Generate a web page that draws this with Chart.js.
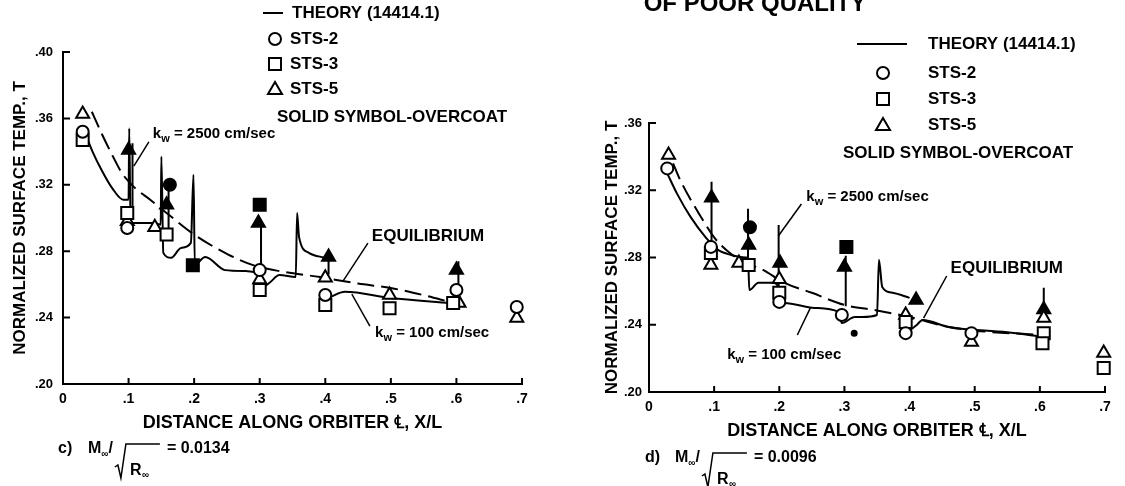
<!DOCTYPE html>
<html>
<head>
<meta charset="utf-8">
<script src="https://cdn.jsdelivr.net/npm/chart.js@4.4.0/dist/chart.umd.min.js"></script>
<style>
html, body { margin: 0; padding: 0; background: #fff; }
#wrap { position: relative; width: 1125px; height: 486px; overflow: hidden; }
canvas { position: absolute; top: 0; }
#panelC { left: 0; }
#panelD { left: 560px; }
</style>
</head>
<body>
<div id="wrap">
  <canvas id="panelC" width="560" height="486"></canvas>
  <canvas id="panelD" width="565" height="486"></canvas>
</div>
<script>
// ---- data (x = X/L, y = normalized temp) ----
const xTickValues = [0, 0.1, 0.2, 0.3, 0.4, 0.5, 0.6, 0.7];
const xTickLabels = ['0', '.1', '.2', '.3', '.4', '.5', '.6', '.7'];
const yTickValuesC = [0.20, 0.24, 0.28, 0.32, 0.36, 0.40];
const yTickLabelsC = ['.20', '.24', '.28', '.32', '.36', '.40'];
const yTickValuesD = [0.20, 0.24, 0.28, 0.32, 0.36];
const yTickLabelsD = ['.20', '.24', '.28', '.32', '.36'];
const flights = ['STS-2', 'STS-3', 'STS-5'];

// panel c)  M/sqrt(R) = 0.0134
const cSts2Open = [[0.030,0.352],[0.098,0.294],[0.300,0.2686],[0.400,0.2536],[0.600,0.2566],[0.692,0.2464]];
const cSts3Open = [[0.030,0.347],[0.098,0.303],[0.158,0.290],[0.300,0.2566],[0.400,0.2476],[0.498,0.2457],[0.595,0.2488]];
const cSts5Open = [[0.030,0.3626],[0.098,0.298],[0.140,0.2945],[0.300,0.263],[0.400,0.264],[0.498,0.2536],[0.604,0.2488],[0.692,0.2397]];
const cSts2Solid = [[0.163,0.320]];
const cSts3Solid = [[0.198,0.2716],[0.300,0.308]];
const cSts5Solid = [[0.100,0.341],[0.158,0.308],[0.298,0.297],[0.405,0.2765],[0.600,0.2686]];
const cKw2500 = [[0.044,0.364],[0.060,0.350],[0.075,0.338],[0.090,0.327],[0.110,0.318],[0.133,0.311],[0.158,0.303],[0.200,0.290],[0.252,0.278],[0.290,0.2716],[0.330,0.268],[0.392,0.2644],[0.450,0.2605],[0.500,0.2578],[0.550,0.2535],[0.590,0.2494]];
const cKw100 = [[0.030,0.355],[0.045,0.340],[0.060,0.328],[0.075,0.318],[0.092,0.311],[0.100,0.311],[0.101,0.354],[0.103,0.297],[0.140,0.297],[0.149,0.296],[0.150,0.337],[0.153,0.279],[0.165,0.276],[0.180,0.282],[0.195,0.285],[0.199,0.326],[0.201,0.272],[0.217,0.2765],[0.247,0.2686],[0.280,0.268],[0.298,0.266],[0.302,0.258],[0.315,0.261],[0.330,0.2656],[0.355,0.2644],[0.357,0.303],[0.360,0.2885],[0.375,0.279],[0.400,0.276]];
const cKw100b = [[0.405,0.252],[0.430,0.2555],[0.500,0.2518],[0.590,0.2488]];
const cArrows = [[0.106,0.303,0.345],[0.161,0.293,0.318],[0.302,0.271,0.297],[0.405,0.266,0.276],[0.603,0.258,0.274]];

// panel d)  M/sqrt(R) = 0.0096
const dSts2Open = [[0.028,0.333],[0.095,0.2863],[0.200,0.2536],[0.296,0.2458],[0.394,0.235],[0.495,0.235]];
const dSts3Open = [[0.095,0.2827],[0.153,0.2756],[0.200,0.259],[0.394,0.2417],[0.606,0.235],[0.604,0.229],[0.698,0.2143]];
const dSts5Open = [[0.030,0.341],[0.095,0.2756],[0.138,0.2768],[0.200,0.267],[0.394,0.2458],[0.495,0.2298],[0.606,0.244],[0.698,0.2232]];
const dSts2Solid = [[0.155,0.298]];
const dSts3Solid = [[0.303,0.2863]];
const dSts5Solid = [[0.096,0.3155],[0.153,0.2875],[0.201,0.2768],[0.300,0.2744],[0.410,0.2547],[0.606,0.249]];
const dDot = [[0.315,0.235]];
const dKw2500 = [[0.037,0.336],[0.048,0.326],[0.080,0.304],[0.100,0.292],[0.120,0.284],[0.142,0.278],[0.175,0.2726],[0.208,0.2649],[0.250,0.259],[0.300,0.2518],[0.350,0.2485],[0.400,0.2446],[0.460,0.2387],[0.500,0.2365],[0.600,0.234]];
const dKw100 = [[0.028,0.330],[0.043,0.318],[0.064,0.304],[0.087,0.292],[0.106,0.2845],[0.126,0.2815],[0.148,0.280],[0.152,0.280],[0.154,0.2607],[0.168,0.265],[0.190,0.265],[0.199,0.262],[0.201,0.252],[0.208,0.253],[0.254,0.250],[0.291,0.2476],[0.296,0.241],[0.316,0.2446],[0.327,0.2446],[0.350,0.2458],[0.353,0.2786],[0.358,0.2625],[0.374,0.259],[0.400,0.256]];
const dKw100b = [[0.395,0.235],[0.410,0.2395],[0.420,0.2428],[0.460,0.2387],[0.550,0.2355],[0.600,0.233]];
const dArrows = [[0.096,0.287,0.325],[0.152,0.277,0.309],[0.199,0.262,0.2994],[0.302,0.251,0.281],[0.606,0.245,0.262]];

const FAM = '"Liberation Sans", Arial, sans-serif';

function pts(a) { return a.map(p => ({ x: p[0], y: p[1] })); }
function segs(a) {
  // vertical arrow shafts, broken apart with nulls
  return a.flatMap(s => [{ x: s[0], y: s[1] }, { x: s[0], y: s[2] }, { x: s[0], y: null }]);
}

function markers(data, style, solid, r) {
  return {
    data: pts(data), showLine: false, order: 0, clip: false,
    pointStyle: style, pointRadius: r, pointHoverRadius: r,
    pointBorderWidth: 2, pointBorderColor: '#000',
    pointBackgroundColor: solid ? '#000' : '#fff',
    borderColor: '#000', backgroundColor: solid ? '#000' : '#fff'
  };
}
function curve(data, dash) {
  return {
    data: pts(data), showLine: true, order: 1, pointRadius: 0,
    borderColor: '#000', borderWidth: 2, borderDash: dash || [],
    cubicInterpolationMode: 'monotone', fill: false
  };
}
function shafts(a) {
  return {
    data: segs(a), showLine: true, order: 1, pointRadius: 0, spanGaps: false,
    borderColor: '#000', borderWidth: 2, fill: false
  };
}

// draws legend, labels, pointers, tick marks and the caption
const paperPlugin = {
  id: 'paper',
  afterDraw(chart, args, o) {
    const ctx = chart.ctx, xs = chart.scales.x, ys = chart.scales.y, a = chart.chartArea;
    const X = v => xs.getPixelForValue(v), Y = v => ys.getPixelForValue(v);
    ctx.save();
    ctx.strokeStyle = '#000';
    ctx.fillStyle = '#000';
    ctx.lineWidth = 2;

    // inward tick marks
    ctx.beginPath();
    xs.ticks.forEach((t, i) => { if (i > 0) { ctx.moveTo(X(t.value), a.bottom); ctx.lineTo(X(t.value), a.bottom - 6); } });
    ys.ticks.forEach((t, i) => { if (i > 0) { ctx.moveTo(a.left, Y(t.value)); ctx.lineTo(a.left + 7, Y(t.value)); } });
    ctx.stroke();

    // leader lines
    ctx.lineWidth = 1.5;
    o.pointers.forEach(p => {
      ctx.beginPath(); ctx.moveTo(X(p[0]), Y(p[1])); ctx.lineTo(X(p[2]), Y(p[3])); ctx.stroke();
    });

    // in-plot labels (with k_w subscript)
    ctx.textBaseline = 'middle';
    ctx.textAlign = 'left';
    o.labels.forEach(l => {
      let x = X(l.x); const y = Y(l.y);
      l.parts.forEach(pt => {
        ctx.font = 'bold ' + (pt[1] ? 11 : l.size) + 'px ' + FAM;
        ctx.fillText(pt[0], x, y + (pt[1] ? 5 : 0));
        x += ctx.measureText(pt[0]).width;
      });
    });

    // legend
    const L = o.legend;
    ctx.font = 'bold 17px ' + FAM;
    ctx.lineWidth = 2;
    ctx.beginPath(); ctx.moveTo(L.line[0], L.lineY); ctx.lineTo(L.line[1], L.lineY); ctx.stroke();
    ctx.fillText('THEORY (14414.1)', L.textX, L.lineY);
    const shapes = ['circle', 'rect', 'triangle'];
    flights.forEach((f, i) => {
      const sx = L.symX, sy = L.rows[i];
      ctx.beginPath();
      if (shapes[i] === 'circle') ctx.arc(sx, sy, 6, 0, Math.PI * 2);
      else if (shapes[i] === 'rect') ctx.rect(sx - 6, sy - 6, 12, 12);
      else { ctx.moveTo(sx, sy - 7); ctx.lineTo(sx + 7, sy + 5); ctx.lineTo(sx - 7, sy + 5); ctx.closePath(); }
      ctx.stroke();
      ctx.fillText(f, L.rowTextX, sy);
    });
    ctx.fillText('SOLID SYMBOL-OVERCOAT', L.solidX, L.solidY);

    // caption  M_inf / sqrt(R_inf)
    const c = o.caption, big = 'bold 16px ' + FAM, small = 'bold 10px ' + FAM;
    ctx.font = big;
    ctx.fillText(c.tag, c.x, c.y);
    let x = c.x + 30;
    ctx.fillText('M', x, c.y); x += ctx.measureText('M').width;
    ctx.font = small; ctx.fillText('\u221e', x, c.y + 5); x += ctx.measureText('\u221e').width;
    ctx.font = big; ctx.fillText('/', x, c.y); x += ctx.measureText('/').width + 2;
    ctx.lineWidth = 1.5;
    ctx.beginPath();
    ctx.moveTo(x, c.y + 18); ctx.lineTo(x + 3, c.y + 16); ctx.lineTo(x + 6, c.y + 29);
    ctx.lineTo(x + 11, c.y - 5); ctx.lineTo(x + 45, c.y - 5);
    ctx.stroke();
    ctx.fillText('R', x + 15, c.y + 22);
    ctx.font = small; ctx.fillText('\u221e', x + 27, c.y + 26);
    ctx.font = big; ctx.fillText(c.value, x + 52, c.y);

    // header remnant
    if (o.header) {
      ctx.font = 'bold 24px ' + FAM;
      ctx.textAlign = 'center';
      ctx.fillText(o.header.text, o.header.x, o.header.y);
    }
    ctx.restore();
  }
};

function makePanel(id, p) {
  const datasets = [
    markers(p.s2o, 'circle', false, 6),
    markers(p.s3o, 'rect', false, 8.5),
    markers(p.s5o, 'triangle', false, 7.5),
    markers(p.s2s, 'circle', true, 6),
    markers(p.s3s, 'rect', true, 8.5),
    markers(p.s5s, 'triangle', true, 7.5),
    curve(p.kw2500, [17, 7]),
    curve(p.kw100),
    curve(p.kw100b),
    shafts(p.arrows)
  ];
  if (p.dot) datasets.push(markers(p.dot, 'circle', true, 2.5));

  return new Chart(document.getElementById(id), {
    type: 'scatter',
    data: { datasets: datasets },
    options: {
      responsive: false,
      animation: false,
      events: [],
      layout: { padding: p.pad },
      plugins: { legend: { display: false }, tooltip: { enabled: false }, paper: p.paper },
      scales: {
        x: {
          type: 'linear', min: 0, max: 0.7,
          afterBuildTicks: s => { s.ticks = xTickValues.map(v => ({ value: v })); },
          afterFit: s => { s.height = 50; },
          ticks: { autoSkip: false, maxRotation: 0, padding: 7, color: '#000',
                   font: { family: FAM, size: 14, weight: 'bold' },
                   callback: (v, i) => xTickLabels[i] },
          grid: { display: false, drawTicks: false },
          border: { display: true, color: '#000', width: 2 },
          title: { display: true, text: 'DISTANCE ALONG ORBITER \u2104, X/L', color: '#000',
                   font: { family: FAM, size: 18, weight: 'bold' }, padding: { top: 2, bottom: 0 } }
        },
        y: {
          type: 'linear', min: 0.2, max: p.yMax,
          afterBuildTicks: s => { s.ticks = p.yVals.map(v => ({ value: v })); },
          afterFit: s => { s.width = p.yWidth; },
          ticks: { autoSkip: false, padding: p.yPad, color: '#000',
                   font: { family: FAM, size: 13, weight: 'bold' },
                   callback: (v, i) => p.yLabels[i] },
          grid: { display: false, drawTicks: false },
          border: { display: true, color: '#000', width: 2 },
          title: { display: true, text: 'NORMALIZED SURFACE TEMP., T', color: '#000',
                   font: { family: FAM, size: 17, weight: 'bold' }, padding: { top: p.yTitlePad, bottom: 0 } }
        }
      }
    },
    plugins: [paperPlugin]
  });
}

makePanel('panelC', {
  s2o: cSts2Open, s3o: cSts3Open, s5o: cSts5Open,
  s2s: cSts2Solid, s3s: cSts3Solid, s5s: cSts5Solid,
  kw2500: cKw2500, kw100: cKw100, kw100b: cKw100b, arrows: cArrows,
  yMax: 0.40, yVals: yTickValuesC, yLabels: yTickLabelsC,
  yWidth: 63, yPad: 10, yTitlePad: 10,
  pad: { left: 0, top: 52, right: 38, bottom: 52 },
  paper: {
    pointers: [[0.131,0.3458,0.108,0.3313],[0.465,0.2849,0.427,0.262],[0.468,0.2349,0.4405,0.2542]],
    labels: [
      { x: 0.137, y: 0.3506, size: 15, parts: [['k', 0], ['w', 1], [' = 2500 cm/sec', 0]] },
      { x: 0.471, y: 0.2892, size: 17, parts: [['EQUILIBRIUM', 0]] },
      { x: 0.476, y: 0.2307, size: 15, parts: [['k', 0], ['w', 1], [' = 100 cm/sec', 0]] }
    ],
    legend: { line: [263, 283], lineY: 13, textX: 292, symX: 275, rowTextX: 290, rows: [39, 64, 89], solidX: 277, solidY: 117 },
    caption: { tag: 'c)', x: 58, y: 449, value: '= 0.0134' }
  }
});

makePanel('panelD', {
  s2o: dSts2Open, s3o: dSts3Open, s5o: dSts5Open,
  s2s: dSts2Solid, s3s: dSts3Solid, s5s: dSts5Solid, dot: dDot,
  kw2500: dKw2500, kw100: dKw100, kw100b: dKw100b, arrows: dArrows,
  yMax: 0.36, yVals: yTickValuesD, yLabels: yTickLabelsD,
  yWidth: 89, yPad: 7, yTitlePad: 42,
  pad: { left: 0, top: 123, right: 20, bottom: 44 },
  paper: {
    pointers: [[0.234,0.3118,0.1985,0.2928],[0.457,0.269,0.4215,0.244],[0.2277,0.2339,0.2477,0.25]],
    labels: [
      { x: 0.2415, y: 0.316, size: 15, parts: [['k', 0], ['w', 1], [' = 2500 cm/sec', 0]] },
      { x: 0.463, y: 0.2738, size: 17, parts: [['EQUILIBRIUM', 0]] },
      { x: 0.12, y: 0.222, size: 15, parts: [['k', 0], ['w', 1], [' = 100 cm/sec', 0]] }
    ],
    legend: { line: [297, 347], lineY: 44, textX: 368, symX: 323, rowTextX: 368, rows: [73, 99, 125], solidX: 283, solidY: 153 },
    caption: { tag: 'd)', x: 85, y: 458, value: '= 0.0096' },
    header: { text: 'OF POOR QUALITY', x: 195, y: 4 }
  }
});
</script>
</body>
</html>
